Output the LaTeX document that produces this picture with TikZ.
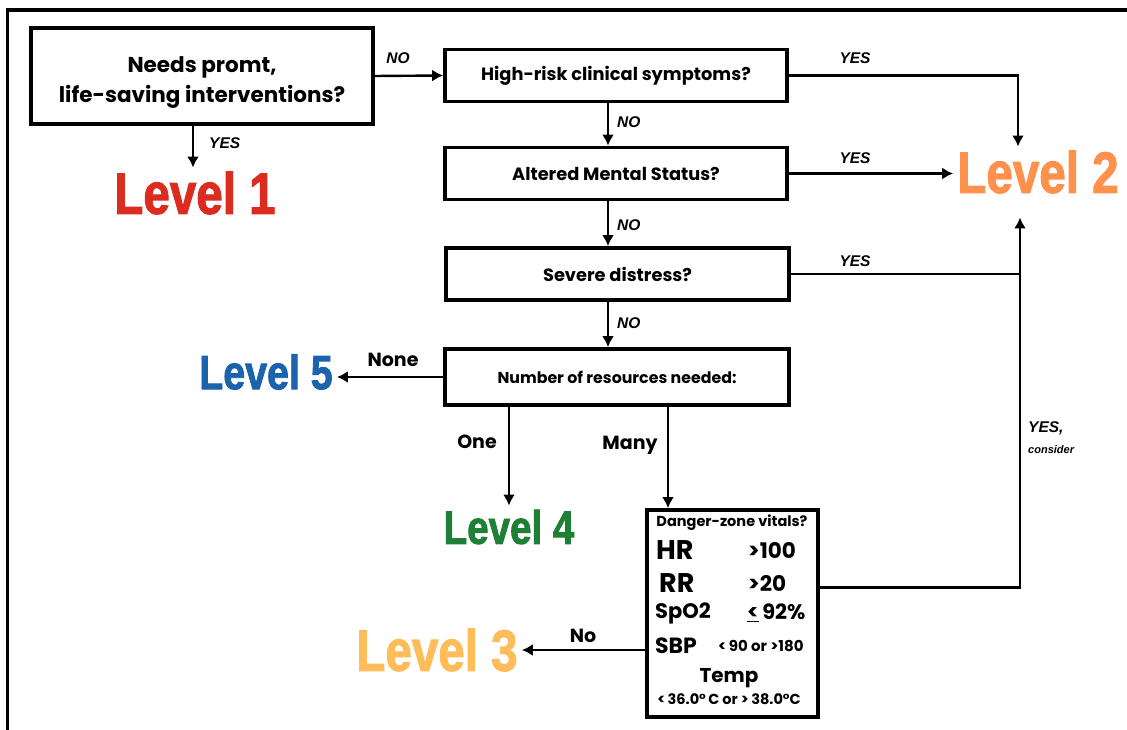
\documentclass[tikz,border=0pt]{standalone}
\usepackage{fontspec}
\setmainfont{Poppins}
\newfontfamily\lvlfont[BoldFeatures={FakeBold=2}]{Liberation Sans}
\newfontfamily\ansfont{Liberation Sans}
\usetikzlibrary{positioning,arrows.meta}

\definecolor{lvone}{HTML}{DC2B1F}
\definecolor{lvtwo}{HTML}{FF914D}
\definecolor{lvthree}{HTML}{FFBD59}
\definecolor{lvfour}{HTML}{1E8035}
\definecolor{lvfive}{HTML}{1B63AD}

\newcommand{\lvltext}[1]{\scalebox{0.82}[1]{#1}}

\begin{document}
\begin{tikzpicture}[
        x=1pt, y=-1pt,
        box/.style={draw, line width=3.8pt, rectangle, minimum width=342pt, minimum height=52pt,
            inner sep=0pt, font=\bfseries\fontsize{17.8}{20}\selectfont},
        lvl/.style={inner sep=4pt, font=\lvlfont\bfseries\fontsize{58}{58}\selectfont},
        ans/.style={inner sep=0pt, font=\ansfont\bfseries\itshape\fontsize{15.5}{15.5}\selectfont},
        opt/.style={inner sep=0pt, font=\bfseries\fontsize{19}{19}\selectfont},
        vit/.style={inner sep=0pt, anchor=west, font=\bfseries\fontsize{#1}{#1}\selectfont},
        link/.style={draw, line width=2.4pt, -{Latex[length=11pt,width=12pt]}}
    ]
 \useasboundingbox (0,0) rectangle (1127,730);
 \fill[white] (0,0) rectangle (1127,730);
 \draw[line width=3.5pt] (7.5,745) |- (1140,10);

 % question boxes
 \node[box, minimum height=96pt, align=center, font=\bfseries\fontsize{21.5}{30}\selectfont]
     (need) at (202,76) {\rule{0pt}{28pt}Needs promt,\\life-saving interventions?};
 \node[box] (risk) at (616,75.5) {High-risk clinical symptoms?};
 \node[box] (mental) at (616,173.5) {Altered Mental Status?};
 \node[box, minimum width=343pt] (distress) at (617.5,274) {Severe distress?};
 \node[box, minimum width=344pt, minimum height=56pt, font=\bfseries\fontsize{15.8}{18}\selectfont]
     (res) at (617,377) {Number of resources needed:};
 \node[draw, line width=3.8pt, minimum width=171pt, minimum height=207pt] (vitals) at (732.5,613.5) {};

 % vitals
 \node[vit=14.5, anchor=center] (vq) at (732,523) {Danger-zone vitals?};
 \node[vit=27] (hr) at (656,550) {HR};
 \node[vit=21.5] (hrv) at (748,550) {>100};
 \node[vit=27] (rr) at (659,583) {RR};
 \node[vit=21.5] (rrv) at (748,583) {>20};
 \node[vit=21] (spo) at (655,613) {SpO2};
 \node[vit=21] (spov) at (747,613) {\underline{<}\,92\%};
 \node[vit=22] (sbp) at (655,646) {SBP};
 \node[vit=15] (sbpv) at (718,646) {<\,90 or >180};
 \node[vit=20, anchor=center] (temp) at (729,678) {Temp};
 \node[vit=14.5, anchor=center] (tempv) at (729,699) {<\,36.0°\,C or >\,38.0°C};

 % levels
 \node[lvl, text=lvone] (lv1) at (195,193) {\lvltext{Level 1}};
 \node[lvl, text=lvtwo] (lv2) at (1038,172) {\lvltext{Level 2}};
 \node[lvl, text=lvthree] (lv3) at (437,650) {\lvltext{Level 3}};
 \node[lvl, text=lvfour, font=\lvlfont\bfseries\fontsize{47}{47}\selectfont] (lv4) at (509,527) {\lvltext{Level 4}};
 \node[lvl, text=lvfive, font=\lvlfont\bfseries\fontsize{48}{48}\selectfont] (lv5) at (266,372) {\lvltext{Level 5}};

 % connectors
 \coordinate (join) at (1020,274);
 \draw[link] (need.east) -- (risk.west);
 \draw[link] ([xshift=-9pt]need.south) -- ([xshift=-2pt]lv1.north);
 \draw[link] ([xshift=-8pt]risk.south) -- ([xshift=-8pt]mental.north);
 \draw[link] ([xshift=-8pt]mental.south) -- ([xshift=-9.5pt]distress.north);
 \draw[link] ([xshift=-9.5pt]distress.south) -- ([xshift=-9pt]res.north);
 \draw[link] (risk.east) -| ([xshift=-20pt]lv2.north);
 \draw[link] (mental.east) -- (mental.east -| lv2.west);
 \draw[link] (distress.east) -- (join) -- ([xshift=-18pt,yshift=-20pt]lv2.south);
 \draw[line width=2.4pt] ([yshift=26pt]vitals.east) -| (join);
 \draw[link] (res.west) -- (res.west -| lv5.east);
 \draw[link] (lv4.north |- res.south) -- (lv4.north);
 \draw[link] ([xshift=-64.5pt]res.south -| vitals.north) -- ([xshift=-64.5pt]vitals.north);
 \draw[link] (vitals.west |- lv3.east) -- (lv3.east);

 % labels
 \node[ans] (no1) at (398,58) {NO};
 \node[ans, anchor=west] (yes1) at (209,143) {YES};
 \node[ans, anchor=west] (no2) at (617,122) {NO};
 \node[ans, anchor=west] (no3) at (617,225) {NO};
 \node[ans, anchor=west] (no4) at (617,323) {NO};
 \node[ans] (yes2) at (855,58) {YES};
 \node[ans] (yes3) at (855,158) {YES};
 \node[ans] (yes4) at (855,261) {YES};
 \node[ans, anchor=west] (yes5) at (1028,428) {YES,};
 \node[ans, anchor=west, font=\ansfont\bfseries\itshape\fontsize{11}{11}\selectfont] (cons) at (1028,450) {consider};
 \node[opt] (none) at (393,360) {None};
 \node[opt] (one) at (477,442) {One};
 \node[opt] (many) at (630,445) {Many};
 \node[opt] (no5) at (583,636) {No};
\end{tikzpicture}
\end{document}
